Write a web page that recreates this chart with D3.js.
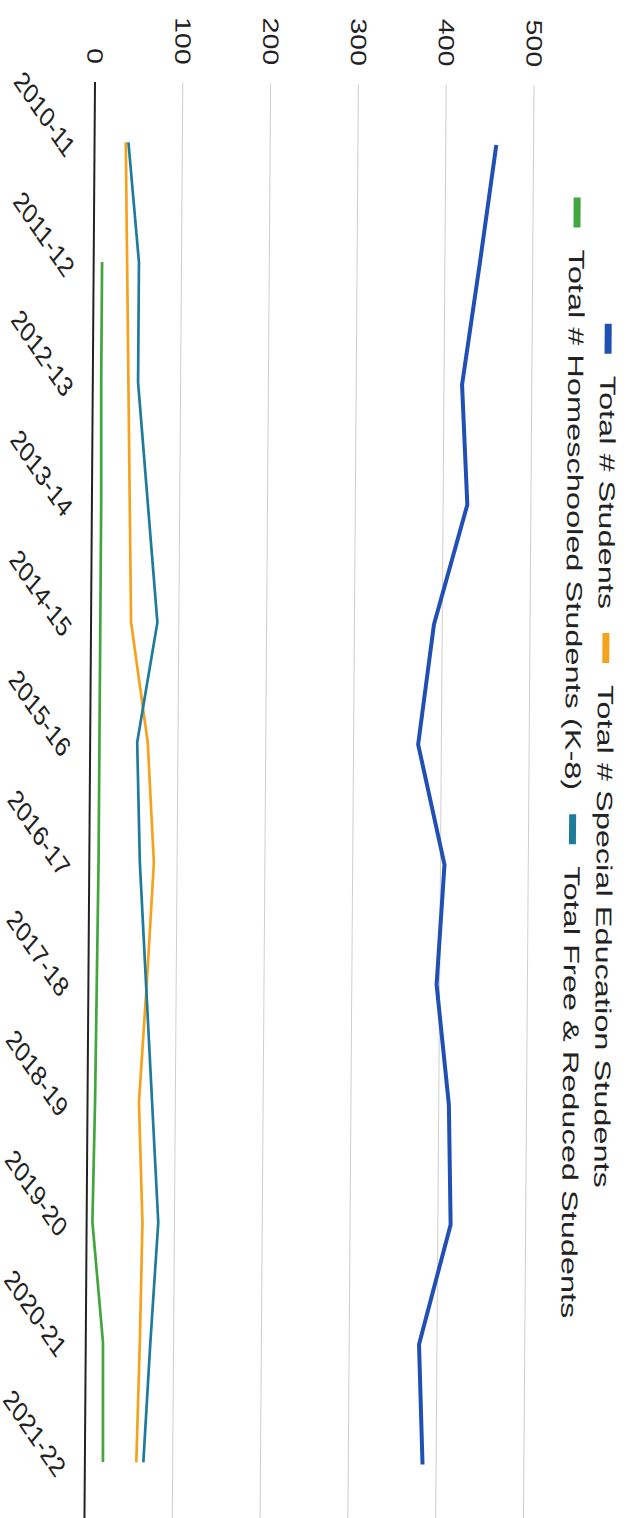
<!DOCTYPE html>
<html>
<head>
<meta charset="utf-8">
<script src="https://cdn.jsdelivr.net/npm/d3@7"></script>
<style>
  html, body { margin: 0; padding: 0; background: #ffffff; }
  svg { display: block; }
  text { font-family: "Liberation Sans", Arial, Helvetica, sans-serif; fill: #222; }
</style>
</head>
<body>
<svg id="chart" width="631" height="1518"></svg>
<script>
// School years on the category axis
const categories = ["2010-11", "2011-12", "2012-13", "2013-14", "2014-15", "2015-16",
                    "2016-17", "2017-18", "2018-19", "2019-20", "2020-21", "2021-22"];

// Student counts per year
const totalStudents = [457, 439, 420, 427, 390, 373, 404, 396, 411, 414, 379, 384];
const specialEd     = [35, 37.5, 40, 42.5, 45, 65, 73, 66, 58, 63, 61, 58];
const homeschooled  = [null, 9, 9, 10, 10, 10, 10, 9, 8, 6, 19, 20];
const freeReduced   = [38, 51, 51, 63, 75, 53, 57, 65, 73, 81, 73, 66];

// Value axis ticks
const valueTicks = [0, 100, 200, 300, 400, 500];

const seriesNames  = ["Total # Students", "Total # Special Education Students",
                      "Total # Homeschooled Students (K-8)", "Total Free & Reduced Students"];
const seriesColors = ["#2050b3", "#f7a21e", "#40a63d", "#1f7b9b"];
const seriesData   = [totalStudents, specialEd, homeschooled, freeReduced];
const seriesWidths = [4, 2.7, 2.7, 2.7];

// The chart is laid out in a landscape frame, then turned a quarter turn clockwise.
const svg = d3.select("#chart");
const root = svg.append("g")
  .attr("transform", "rotate(0.42,95,82) translate(631,0) rotate(90)");

const plotLeft = 82, plotRight = 1522;
const x = d3.scalePoint().domain(categories).range([plotLeft, plotRight]).padding(0.5);
const y = d3.scaleLinear().domain([0, 500]).range([535.5, 96.5]);

const textStretch = 1.3;   // glyphs are drawn wider than tall
const fontSize = 22;

// Gridlines + value labels
const yAxis = d3.axisLeft(y)
  .tickValues(valueTicks)
  .tickSize(-(plotRight - plotLeft))
  .tickPadding(18);

const yG = root.append("g")
  .attr("transform", `translate(${plotLeft},0)`)
  .call(yAxis);
yG.select(".domain").remove();
yG.selectAll(".tick line")
  .attr("stroke", d => d === 0 ? "#222" : "#cfcfcf")
  .attr("stroke-width", d => d === 0 ? 2 : 1);
yG.selectAll(".tick text")
  .attr("x", 0)
  .attr("dy", "0.35em")
  .attr("transform", `translate(-18,0) scale(${textStretch},1)`)
  .style("font-size", fontSize + "px")
  .style("font-family", "'Liberation Sans', Arial, sans-serif")
  .attr("fill", "#222");

// Category labels, slanted
const xAxis = d3.axisBottom(x).tickSize(0).tickPadding(0);
const xG = root.append("g")
  .attr("transform", `translate(0,${y(0)})`)
  .call(xAxis);
xG.select(".domain").remove();
xG.selectAll(".tick text")
  .attr("x", 0).attr("y", 0)
  .attr("dy", "0.35em")
  .attr("text-anchor", "end")
  .attr("transform", `translate(10,24) scale(${textStretch},1) rotate(-42)`)
  .style("font-size", fontSize + "px")
  .style("font-family", "'Liberation Sans', Arial, sans-serif")
  .attr("fill", "#222");

// Series lines
const line = d3.line()
  .defined(d => d != null)
  .x((d, i) => x(categories[i]))
  .y(d => y(d));

root.append("g").selectAll("path")
  .data(seriesData)
  .join("path")
  .attr("fill", "none")
  .attr("stroke", (d, i) => seriesColors[i])
  .attr("stroke-width", (d, i) => seriesWidths[i])
  .attr("stroke-linejoin", "round")
  .attr("d", d => line(d));

// Legend: two rows
const legendRows = [
  { items: [0, 1], start: 320, cy: 21 },
  { items: [2, 3], start: 194, cy: 53 }
];
const legendStretch = 1.48;
const markerLen = 30, markerThick = 7, markerGap = 22, itemGap = 24;

const legend = root.append("g");
legendRows.forEach(row => {
  let cx = row.start;
  row.items.forEach(k => {
    legend.append("rect")
      .attr("x", cx).attr("y", row.cy - markerThick / 2)
      .attr("width", markerLen).attr("height", markerThick)
      .attr("fill", seriesColors[k]);
    cx += markerLen + markerGap;
    const t = legend.append("text")
      .attr("x", 0).attr("y", 0)
      .attr("dy", "0.35em")
      .attr("transform", `translate(${cx},${row.cy}) scale(${legendStretch},1)`)
      .style("font-size", fontSize + "px")
      .text(seriesNames[k]);
    cx += t.node().getComputedTextLength() * legendStretch + itemGap;
  });
});
</script>
</body>
</html>
